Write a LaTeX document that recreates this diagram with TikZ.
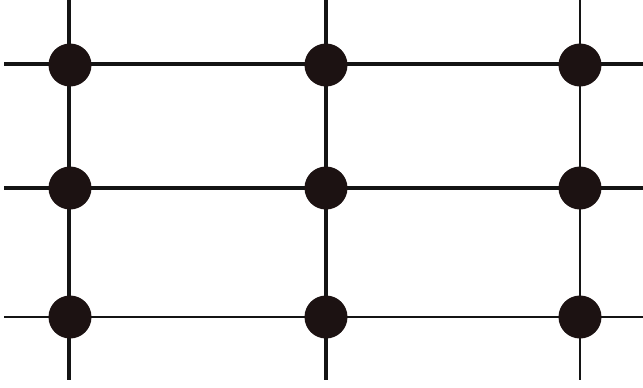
\documentclass[tikz,border=0pt]{standalone}
\definecolor{dotink}{RGB}{28,18,18}
\definecolor{gridink}{RGB}{20,20,20}
\tikzset{
  dot/.style={circle,fill=dotink,inner sep=0pt,minimum size=0.86cm},
}

\begin{document}
\begin{tikzpicture}[x=0.02cm,y=-0.02cm]
  \useasboundingbox (0,0) rectangle (643,387);
  % columns and rows
  \foreach \n/\x/\w in {1/69/2.0pt,2/326/1.8pt,3/580/1.2pt} {
    \coordinate (top\n) at (\x,0);
    \coordinate (bot\n) at (\x,380);
    \draw[gridink,line width=\w] (top\n) -- (bot\n);
  }
  \foreach \n/\y/\w in {1/64/2.2pt,2/188/1.8pt,3/317/1.2pt} {
    \coordinate (lft\n) at (4,\y);
    \coordinate (rgt\n) at (643,\y);
    \draw[gridink,line width=\w] (lft\n) -- (rgt\n);
  }
  \foreach \c/\x in {1/70,2/326,3/580}
    \foreach \r/\y in {1/65,2/188,3/317}
      \node[dot] (d\c\r) at (\x,\y) {};
\end{tikzpicture}
\end{document}
